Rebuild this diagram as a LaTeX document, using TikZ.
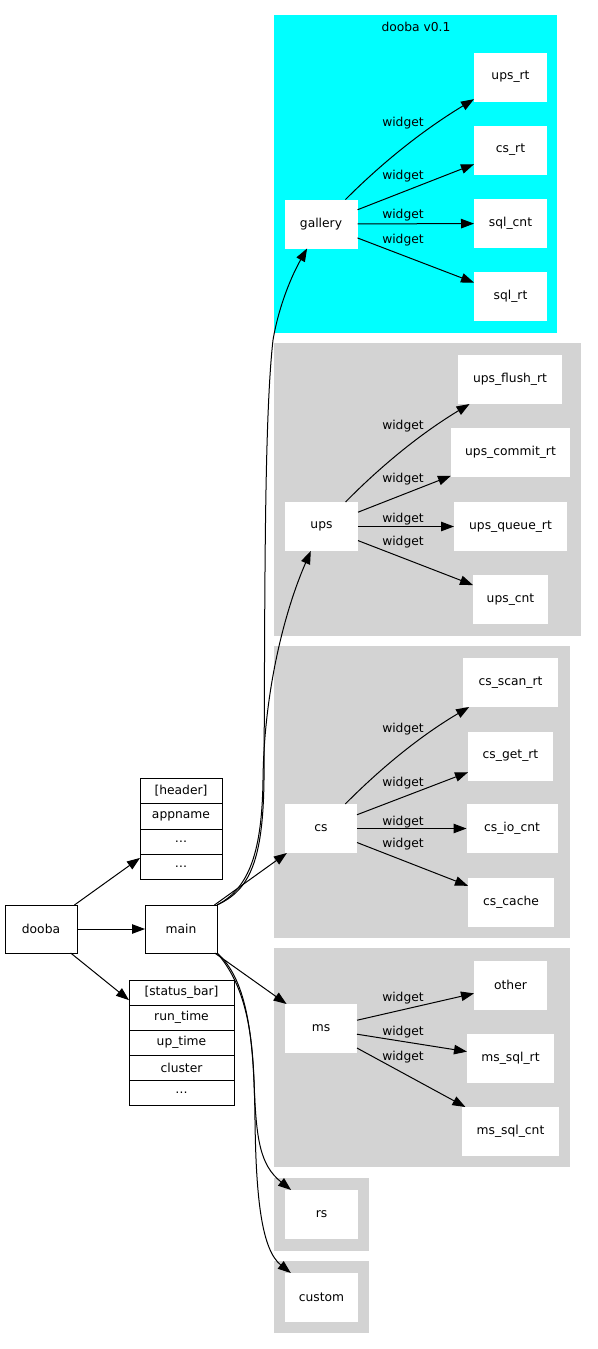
\documentclass[tikz,border=0pt]{standalone}
\usepackage{fontspec}
\setmainfont{DejaVu Sans}
\usetikzlibrary{arrows.meta}
\definecolor{clgray}{HTML}{D3D3D3}
\definecolor{clcyan}{HTML}{00FFFF}
\begin{document}
\begin{tikzpicture}[x=1pt,y=-1pt,
  every node/.style={font=\fontsize{12.3}{14}\selectfont, inner sep=0pt, outer sep=0pt},
  wbox/.style={fill=white, minimum height=49pt},
  bbox/.style={draw=black, line width=1pt, fill=white, minimum width=72pt, minimum height=48pt},
  recbox/.style={draw=black, line width=1pt, fill=white},
  lbl/.style={},
  conn/.style={-{Triangle[length=13pt,width=9.5pt]}, line width=1pt},
  ]
\useasboundingbox (0,0) rectangle (597,1349);
% clusters
\fill[clcyan] (274,15) rectangle (557,333);
\fill[clgray] (274,343) rectangle (581,636);
\fill[clgray] (274,646) rectangle (570,938);
\fill[clgray] (274,948) rectangle (570,1167);
\fill[clgray] (274,1178) rectangle (369,1251);
\fill[clgray] (274,1261) rectangle (369,1333);
\node (title) at (416,27) {dooba v0.1};

% gallery cluster
\node[wbox, minimum width=73pt] (gallery) at (321,224) {gallery};
\node[wbox, minimum width=73pt] (ups_rt) at (510.5,77) {ups\_rt};
\node[wbox, minimum width=73pt] (cs_rt) at (510.5,150) {cs\_rt};
\node[wbox, minimum width=73pt] (sql_cnt) at (510.5,223.5) {sql\_cnt};
\node[wbox, minimum width=73pt] (sql_rt) at (510.5,296.5) {sql\_rt};
\draw[conn] (gallery) .. controls (375,170) and (415,135) .. (ups_rt);
\draw[conn] (gallery) -- (cs_rt);
\draw[conn] (gallery) -- (sql_cnt);
\draw[conn] (gallery) -- (sql_rt);
\node[lbl] (lg1) at (403,123) {widget};
\node[lbl] (lg2) at (403,176) {widget};
\node[lbl] (lg3) at (403,215) {widget};
\node[lbl] (lg4) at (403,240) {widget};

% ups cluster
\node[wbox, minimum width=73pt] (ups) at (321.5,526.5) {ups};
\node[wbox, minimum width=104pt] (ups_flush_rt) at (510,379.5) {ups\_flush\_rt};
\node[wbox, minimum width=119pt] (ups_commit_rt) at (510.5,452.5) {ups\_commit\_rt};
\node[wbox, minimum width=113pt] (ups_queue_rt) at (510.5,526.5) {ups\_queue\_rt};
\node[wbox, minimum width=75pt] (ups_cnt) at (510.5,599.5) {ups\_cnt};
\draw[conn] (ups) .. controls (375,472) and (415,437) .. (ups_flush_rt);
\draw[conn] (ups) -- (ups_commit_rt);
\draw[conn] (ups) -- (ups_queue_rt);
\draw[conn] (ups) -- (ups_cnt);
\node[lbl] (lu1) at (403,426) {widget};
\node[lbl] (lu2) at (403,479) {widget};
\node[lbl] (lu3) at (403,519) {widget};
\node[lbl] (lu4) at (403,542) {widget};

% cs cluster
\node[wbox, minimum width=72pt] (cs) at (321,828.5) {cs};
\node[wbox, minimum width=95pt] (cs_scan_rt) at (510.5,682.5) {cs\_scan\_rt};
\node[wbox, minimum width=85pt] (cs_get_rt) at (510.5,756) {cs\_get\_rt};
\node[wbox, minimum width=91pt] (cs_io_cnt) at (512,828.5) {cs\_io\_cnt};
\node[wbox, minimum width=86pt] (cs_cache) at (511,902.5) {cs\_cache};
\draw[conn] (cs) .. controls (375,774) and (415,739) .. (cs_scan_rt);
\draw[conn] (cs) -- (cs_get_rt);
\draw[conn] (cs) -- (cs_io_cnt);
\draw[conn] (cs) -- (cs_cache);
\node[lbl] (lc1) at (403,729) {widget};
\node[lbl] (lc2) at (403,783) {widget};
\node[lbl] (lc3) at (403,822) {widget};
\node[lbl] (lc4) at (403,844) {widget};

% ms cluster
\node[wbox, minimum width=72pt] (ms) at (321,1028.5) {ms};
\node[wbox, minimum width=73pt] (other) at (510.5,985) {other};
\node[wbox, minimum width=87pt] (ms_sql_rt) at (510.5,1058.5) {ms\_sql\_rt};
\node[wbox, minimum width=97pt] (ms_sql_cnt) at (510.5,1131.5) {ms\_sql\_cnt};
\draw[conn] (ms) -- (other);
\draw[conn] (ms) -- (ms_sql_rt);
\draw[conn] (ms) -- (ms_sql_cnt);
\node[lbl] (lm1) at (403,998) {widget};
\node[lbl] (lm2) at (403,1032) {widget};
\node[lbl] (lm3) at (403,1057) {widget};

% rs, custom
\node[wbox, minimum width=73pt] (rs) at (321.5,1214.5) {rs};
\node[wbox, minimum width=73pt] (custom) at (321.5,1297.5) {custom};

% left part
\node[bbox] (dooba) at (41,929) {dooba};
\node[bbox] (main) at (181,929) {main};

\node[recbox, minimum width=82pt, minimum height=101pt] (header) at (181,828.5) {};
\draw[line width=1pt] (140,803.5) -- (222,803.5) (140,829) -- (222,829) (140,854) -- (222,854);
\node (h1) at (181,791) {[header]};
\node (h2) at (181,816) {appname};
\node (h3) at (181,841.5) {\ldots};
\node (h4) at (181,866.5) {\ldots};

\node[recbox, minimum width=105pt, minimum height=125pt] (status_bar) at (181.5,1042.5) {};
\draw[line width=1pt] (129,1005) -- (234,1005) (129,1030) -- (234,1030) (129,1055) -- (234,1055) (129,1080) -- (234,1080);
\node (s1) at (181.5,992.5) {[status\_bar]};
\node (s2) at (181.5,1017.5) {run\_time};
\node (s3) at (181.5,1042.5) {up\_time};
\node (s4) at (181.5,1067.5) {cluster};
\node (s5) at (181.5,1092.5) {\ldots};

\draw[conn] (dooba) -- (header);
\draw[conn] (dooba) -- (main);
\draw[conn] (dooba) -- (status_bar);

\draw[conn] (main.north east) .. controls (250,890) and (263,860) .. (264,780)
   .. controls (265,600) and (264,420) .. (273,340)
   .. controls (279,305) and (292,275) .. (gallery);
\draw[conn] (main.north east) .. controls (250,888) and (262,850) .. (263,780)
   .. controls (264,690) and (285,610) .. (ups);
\draw[conn] (main) -- (cs);
\draw[conn] (main) -- (ms);
\draw[conn] (main.south east) .. controls (245,985) and (252,1030) .. (254,1080)
   .. controls (256,1140) and (260,1165) .. (rs);
\draw[conn] (main.south east) .. controls (248,980) and (254,1040) .. (255,1120)
   .. controls (256,1200) and (262,1250) .. (custom);
\end{tikzpicture}
\end{document}
